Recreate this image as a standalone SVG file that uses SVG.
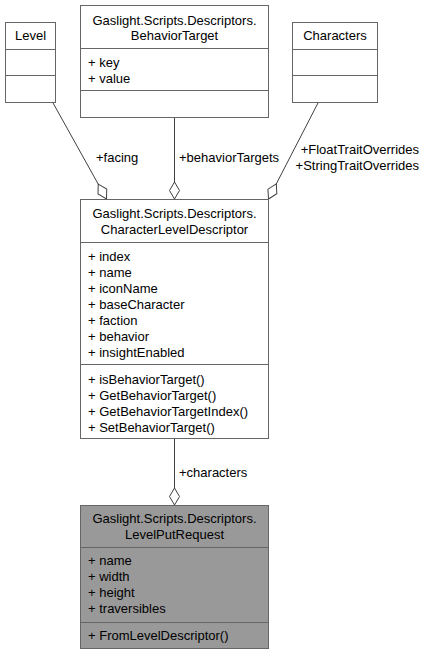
<svg xmlns="http://www.w3.org/2000/svg" width="425" height="655" viewBox="0 0 425 655">
<style>
text{font-family:"Liberation Sans",Arial,sans-serif;font-size:13px;fill:#000}
.c{text-anchor:middle}
.e{text-anchor:end}
.box{fill:#fff;stroke:#666;stroke-width:1}
.cur{fill:#999;stroke:#666;stroke-width:1}
.div{stroke:#666;stroke-width:1}
.edge{fill:none;stroke:#404040;stroke-width:1}
</style>
<defs>
<marker id="dia" markerUnits="userSpaceOnUse" markerWidth="20" markerHeight="14" viewBox="-1 -7 20 14" refX="17" refY="0" orient="auto">
<path d="M0,0 L8.5,-5 L17,0 L8.5,5 Z" fill="#fff" stroke="#404040" stroke-width="1"/>
</marker>
</defs>
<g id="edges">
<path class="edge" d="M52.5,102 L106.5,199" marker-end="url(#dia)"/>
<path class="edge" d="M174.5,117 L174.5,199" marker-end="url(#dia)"/>
<path class="edge" d="M318.5,102 L268.5,199" marker-end="url(#dia)"/>
<path class="edge" d="M174.5,438 L174.5,505" marker-end="url(#dia)"/>
<text x="96" y="162">+facing</text>
<text x="179" y="162">+behaviorTargets</text>
<text class="e" x="419" y="154">+FloatTraitOverrides</text>
<text class="e" x="419" y="170">+StringTraitOverrides</text>
<text x="179" y="477">+characters</text>
</g>
<g id="Level">
<rect class="box" x="5.5" y="22.5" width="50" height="80"/>
<line class="div" x1="5.5" y1="49.5" x2="55.5" y2="49.5"/>
<line class="div" x1="5.5" y1="75.5" x2="55.5" y2="75.5"/>
<text class="c" x="30.5" y="40">Level</text>
</g>
<g id="BehaviorTarget">
<rect class="box" x="80.5" y="5.5" width="188" height="112"/>
<line class="div" x1="80.5" y1="48.5" x2="268.5" y2="48.5"/>
<line class="div" x1="80.5" y1="90.5" x2="268.5" y2="90.5"/>
<text class="c" x="174.5" y="25">Gaslight.Scripts.Descriptors.</text>
<text class="c" x="174.5" y="40">BehaviorTarget</text>
<text x="88" y="67">+ key</text>
<text x="88" y="83">+ value</text>
</g>
<g id="Characters">
<rect class="box" x="292.5" y="22.5" width="85" height="80"/>
<line class="div" x1="292.5" y1="49.5" x2="377.5" y2="49.5"/>
<line class="div" x1="292.5" y1="75.5" x2="377.5" y2="75.5"/>
<text class="c" x="335" y="40">Characters</text>
</g>
<g id="CharacterLevelDescriptor">
<rect class="box" x="80.5" y="199.5" width="188" height="239"/>
<line class="div" x1="80.5" y1="242.5" x2="268.5" y2="242.5"/>
<line class="div" x1="80.5" y1="364.5" x2="268.5" y2="364.5"/>
<text class="c" x="174.5" y="218">Gaslight.Scripts.Descriptors.</text>
<text class="c" x="174.5" y="234">CharacterLevelDescriptor</text>
<text x="88" y="261">+ index</text>
<text x="88" y="277">+ name</text>
<text x="88" y="293">+ iconName</text>
<text x="88" y="309">+ baseCharacter</text>
<text x="88" y="325">+ faction</text>
<text x="88" y="341">+ behavior</text>
<text x="88" y="357">+ insightEnabled</text>
<text x="88" y="384">+ isBehaviorTarget()</text>
<text x="88" y="400">+ GetBehaviorTarget()</text>
<text x="88" y="416">+ GetBehaviorTargetIndex()</text>
<text x="88" y="432">+ SetBehaviorTarget()</text>
</g>
<g id="LevelPutRequest">
<rect class="cur" x="80.5" y="505.5" width="188" height="143"/>
<line class="div" x1="80.5" y1="547.5" x2="268.5" y2="547.5"/>
<line class="div" x1="80.5" y1="622.5" x2="268.5" y2="622.5"/>
<text class="c" x="174.5" y="523">Gaslight.Scripts.Descriptors.</text>
<text class="c" x="174.5" y="539">LevelPutRequest</text>
<text x="88" y="565">+ name</text>
<text x="88" y="581">+ width</text>
<text x="88" y="597">+ height</text>
<text x="88" y="613">+ traversibles</text>
<text x="88" y="640">+ FromLevelDescriptor()</text>
</g>
</svg>
